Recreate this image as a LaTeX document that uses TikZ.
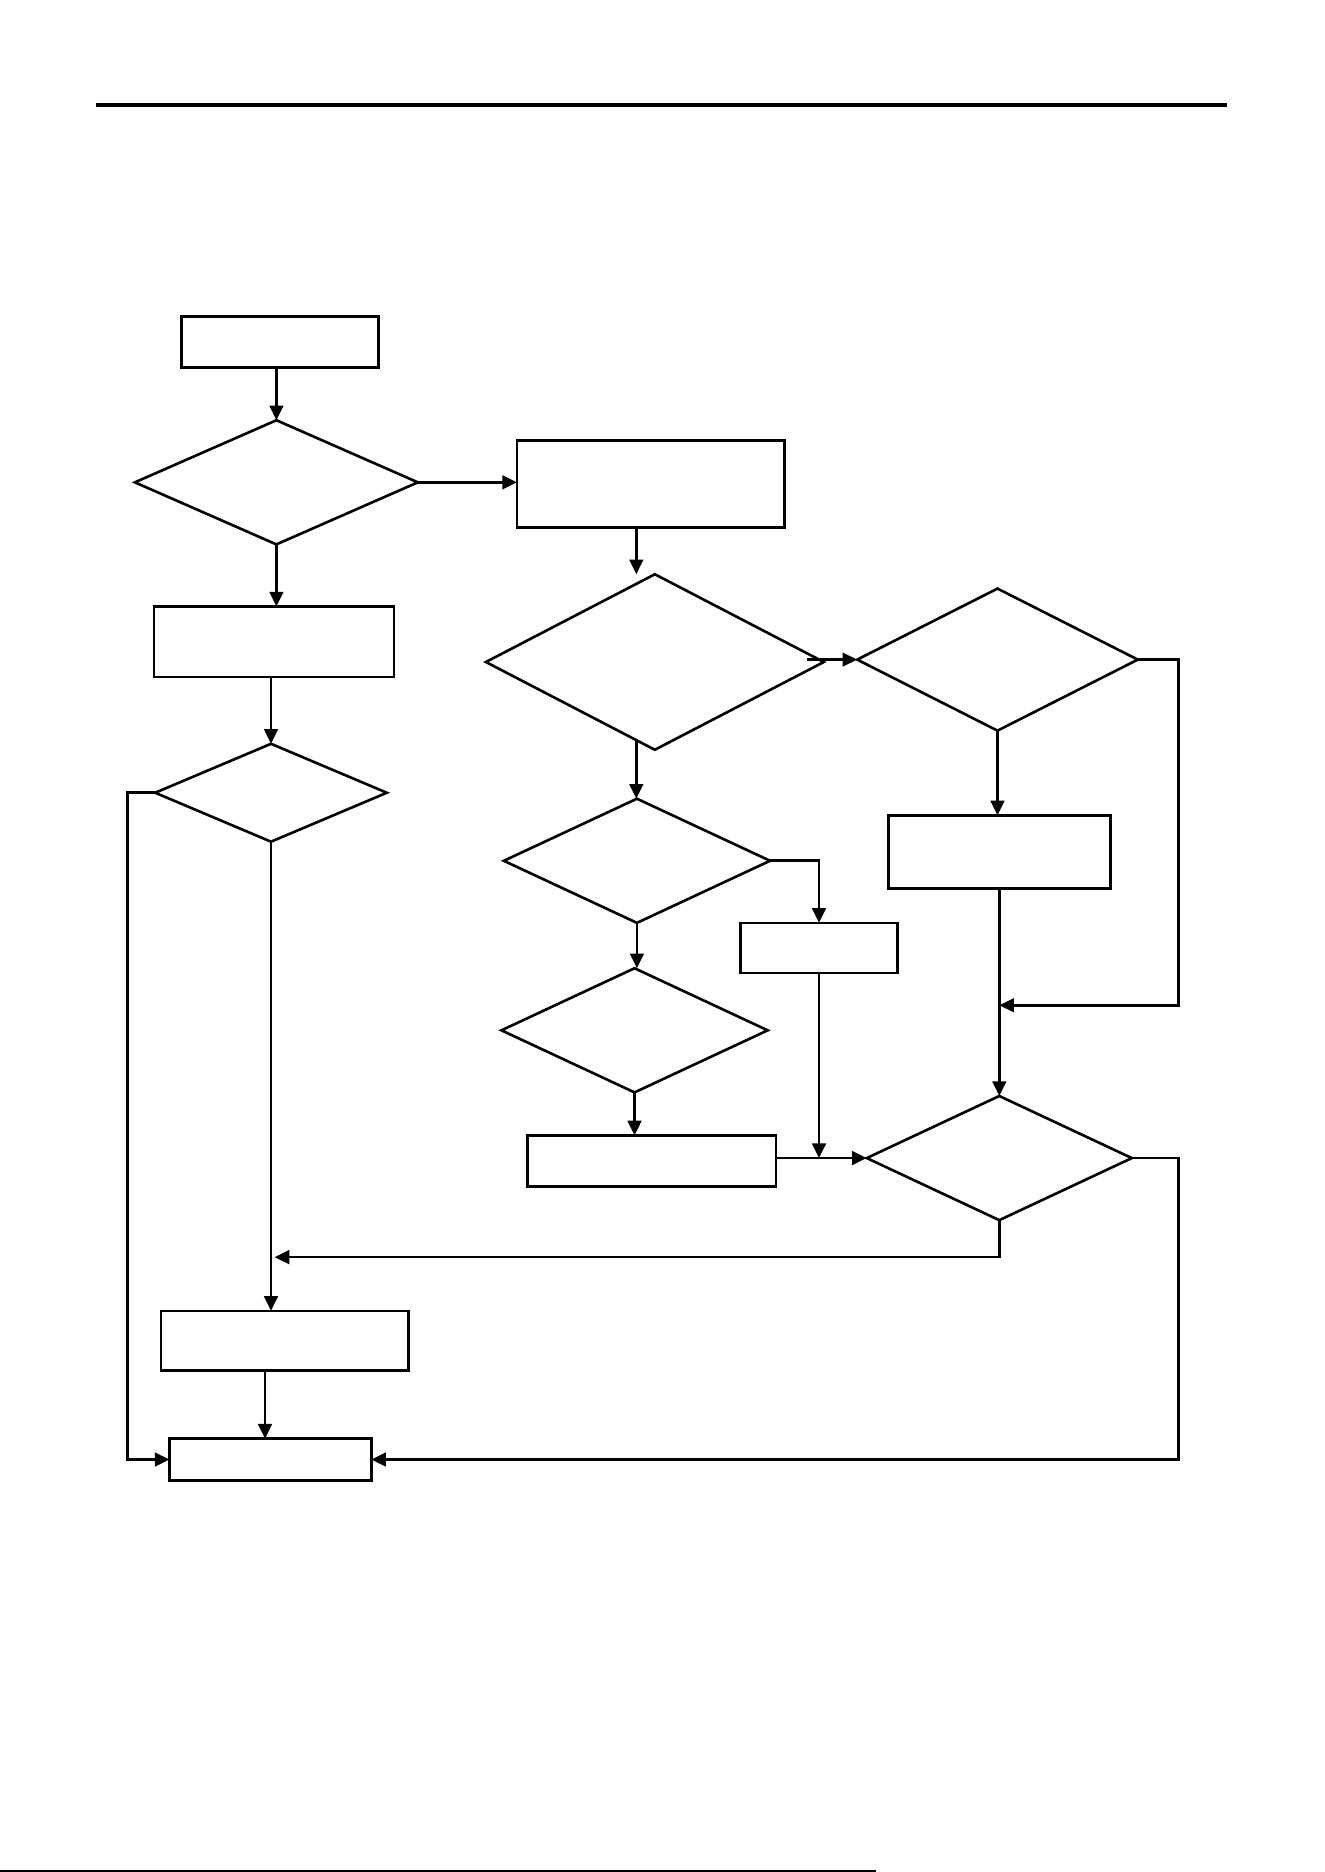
\documentclass[tikz,border=0pt]{standalone}
\usetikzlibrary{shapes.geometric,arrows.meta}
\tikzset{
  bx/.style 2 args={draw, rectangle, inner sep=0, outer sep=0, line width=1.25pt,
     minimum width=#1*0.02cm, minimum height=#2*0.02cm},
  dm/.style 2 args={draw, diamond, inner sep=0, outer sep=0, line width=1.25pt,
     minimum width=#1*0.02cm, minimum height=#2*0.02cm},
  ar/.style={line width=1.25pt, -{Triangle[length=7pt,width=6.5pt]}}
}
\begin{document}
\begin{tikzpicture}[x=0.02cm, y=-0.02cm]
\useasboundingbox (0,0) rectangle (1109,1568);
\fill[white] (0,0) rectangle (1109,1568);
% page rules
\draw[line width=1.6pt] (80,88) -- (1028,88);
\draw[line width=1.2pt] (0,1567) -- (734,1567);

% nodes
\node[bx={165}{43}]  (A)  at (234.5,286.5) {};
\node[dm={237}{104}] (D1) at (231.5,404) {};
\node[bx={224}{73}]  (B)  at (545,405.5) {};
\node[dm={283}{147}] (D2) at (548.5,554.5) {};
\node[bx={201}{59}]  (C)  at (229.5,537.5) {};
\node[dm={194}{82}]  (D3) at (227,664) {};
\node[dm={235}{119}] (D4) at (835.5,552.5) {};
\node[bx={186}{61}]  (E)  at (837,713.5) {};
\node[dm={223}{104}] (D5) at (533.5,721) {};
\node[bx={132}{42}]  (F)  at (686,794) {};
\node[dm={223}{104}] (D7) at (531.5,863) {};
\node[bx={208}{43}]  (I)  at (546,972.5) {};
\node[dm={222}{104}] (D6) at (837,970) {};
\node[bx={207}{50}]  (G)  at (238.5,1123) {};
\node[bx={169}{35}]  (H)  at (226.5,1222.5) {};

% junction points on connectors
\coordinate (j1) at (837,842);
\coordinate (j2) at (F.south |- D6.west);
\coordinate (j3) at (230,1053);
\coordinate (s2) at ([shift={(-15.5,-8)}]D2.south);
\coordinate (s4) at ([shift={(-14,0)}]D2.east |- D4.west);

% connectors
\draw[ar] (D1.north |- A.south) -- (D1.north);
\draw[ar] (D1.east) -- (D1.east -| B.west);
\draw[ar] ([shift={(-12,0)}]B.south) -- ([shift={(-15.5,0)}]D2.north);
\draw[ar] (D1.south) -- (D1.south |- C.north);
\draw[ar] (D3.north |- C.south) -- (D3.north);
\draw[ar] (D3.west) -- ++(-23,0) |- (H.west);
\draw[ar] (D3.south) -- (D3.south |- G.north);
\draw[ar] ([shift={(-16.5,0)}]G.south) -- ([shift={(-4.5,0)}]H.north);
\draw[ar] (s4) -- (D4.west);
\draw[ar] (D4.south) -- (D4.south |- E.north);
\draw[ar] (D4.east) -- ++(34,0) |- (j1);
\draw[ar] (E.south) -- (D6.north);
\draw[ar] (s2) -- (s2 |- D5.north);
\draw[ar] (D5.east) -| (F.north);
\draw[ar] (F.south) -- (j2);
\draw[ar] (D5.south) -- (D5.south |- D7.north);
\draw[ar] (D7.south) -- (D7.south |- I.north);
\draw[ar] (I.east |- D6.west) -- (D6.west);
\draw[ar] (D6.south) |- (j3);
\draw[ar] (D6.east) -- ++(39,0) |- (H.east);
\end{tikzpicture}
\end{document}
